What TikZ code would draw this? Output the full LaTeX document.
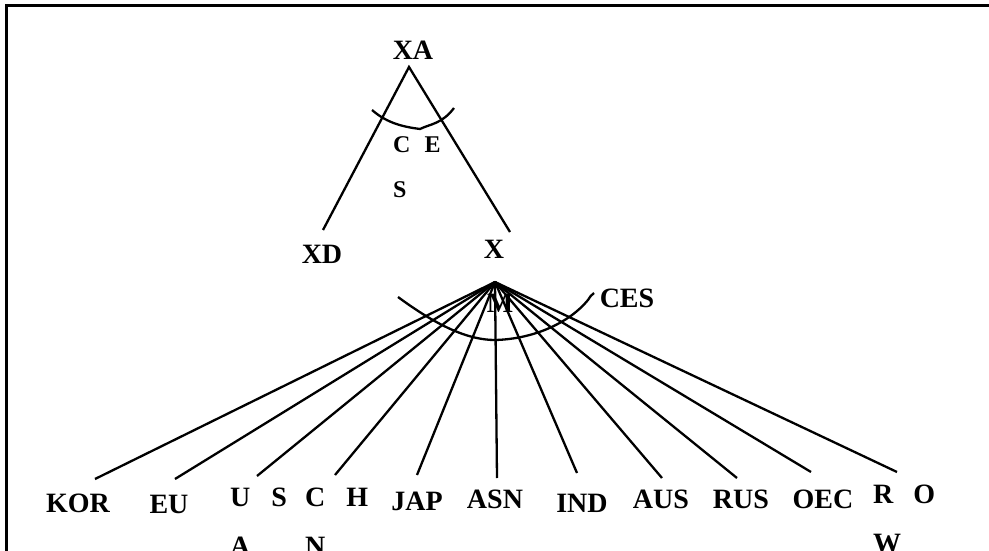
\documentclass[tikz,border=0pt]{standalone}
\usepackage{fontspec}
\setmainfont{Liberation Serif}
\begin{document}
\begin{tikzpicture}[x=1pt,y=-1pt,
  lab/.style={font=\bfseries\fontsize{28}{32}\selectfont, inner sep=0pt, anchor=base},
  mlab/.style={font=\bfseries\fontsize{28}{#1}\selectfont, inner sep=0pt, anchor=north west, align=left},
  ln/.style={line width=2.3pt}]
\useasboundingbox (0,0) rectangle (989,551);
\draw[line width=3pt] (6,551) -- (6,6) -- (989,6);

% upper tree
\node[lab] (XA) at (413,60) {XA};
\node[lab] (XD) at (322,263) {XD};
\node[lab] (X) at (494,258) {X};
\node[mlab=45, font=\bfseries\fontsize{24}{45}\selectfont] (ces1) at (393,136) {C\hspace{14pt}E\\S};
\coordinate (a1) at (409,67);
\coordinate (d1) at (323,230);
\coordinate (x1) at (510,232);
\draw[ln] (d1) -- (a1) -- (x1);
\draw[ln] (372,110) .. controls (388,124) and (405,127) .. (420,129)
  .. controls (430,124) and (442,124) .. (454,108);

% lower fan
\node[lab] (M) at (500,312) {M};
\node[lab] (CES) at (627,307) {CES};
\coordinate (m1) at (495,282);
\node[lab] (KOR) at (78,512) {KOR};
\node[lab] (EU) at (169,513) {EU};
\node[mlab=49] (USA) at (230,488) {U\hspace{21pt}S\\A};
\node[mlab=49] (CHN) at (305,488) {C\hspace{21pt}H\\N};
\node[lab] (JAP) at (417,510) {JAP};
\node[lab] (ASN) at (495,508) {ASN};
\node[lab] (IND) at (582,512) {IND};
\node[lab] (AUS) at (661,508) {AUS};
\node[lab] (RUS) at (741,508) {RUS};
\node[lab] (OEC) at (823,508) {OEC};
\node[mlab=49] (ROW) at (873,485) {R\hspace{20pt}O\\W};
\coordinate (eKOR) at (95,479);
\coordinate (eEU) at (175,479);
\coordinate (eUSA) at (257,476);
\coordinate (eCHN) at (335,475);
\coordinate (eJAP) at (417,475);
\coordinate (eASN) at (497,478);
\coordinate (eIND) at (577,473);
\coordinate (eAUS) at (662,478);
\coordinate (eRUS) at (737,478);
\coordinate (eOEC) at (811,472);
\coordinate (eROW) at (897,472);
\foreach \e in {eKOR,eEU,eUSA,eCHN,eJAP,eASN,eIND,eAUS,eRUS,eOEC,eROW}
  \draw[ln] (m1) -- (\e);
\draw[ln] (398,297) .. controls (440,328) and (470,340) .. (495,340)
  .. controls (535,339) and (570,322) .. (588,300)
  .. controls (590,297) and (591,295) .. (594,293);
\end{tikzpicture}
\end{document}
